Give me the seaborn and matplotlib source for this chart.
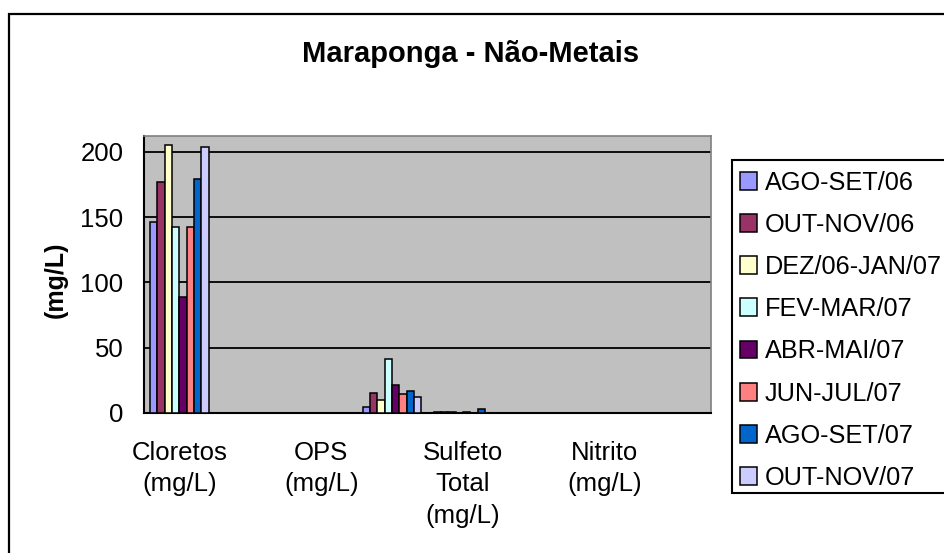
import numpy as np
import pandas as pd
import matplotlib
matplotlib.use("Agg")
import matplotlib.pyplot as plt
from matplotlib.patches import Rectangle
import seaborn as sns

# categories (only every other label is shown on the axis, as in the original)
cat_pos = [0, 1, 2, 3, 4, 5, 6, 7]
tick_labels = ["Cloretos\n(mg/L)", "", "OPS\n(mg/L)", "", "Sulfeto\nTotal\n(mg/L)", "", "Nitrito\n(mg/L)", ""]

periods = ["AGO-SET/06", "OUT-NOV/06", "DEZ/06-JAN/07", "FEV-MAR/07",
           "ABR-MAI/07", "JUN-JUL/07", "AGO-SET/07", "OUT-NOV/07"]
colors = ["#9999FF", "#993366", "#FFFFCC", "#CCFFFF",
          "#660066", "#FF8080", "#0066CC", "#CCCCFF"]

# values per period, one entry per category slot
ago_set_06 = [145.8, 0, 0, 4.6, 1.0, 0, 0, 0]
out_nov_06 = [176.5, 0, 0, 15.3, 1.0, 0, 0, 0]
dez_jan_07 = [205.4, 0, 0, 10.2, 1.0, 0, 0, 0]
fev_mar_07 = [142.3, 0, 0, 41.1, 0, 0, 0, 0]
abr_mai_07 = [89.1, 0, 0, 21.2, 1.0, 0, 0, 0]
jun_jul_07 = [142.3, 0, 0, 14.8, 0, 0, 0, 0]
ago_set_07 = [179.3, 0, 0, 16.9, 3.0, 0, 0, 0]
out_nov_07 = [203.6, 0, 0, 12.3, 0, 0, 0, 0]

series = [ago_set_06, out_nov_06, dez_jan_07, fev_mar_07,
          abr_mai_07, jun_jul_07, ago_set_07, out_nov_07]

rows = []
for p, vals in zip(periods, series):
    for c, v in zip(cat_pos, vals):
        rows.append({"cat": c, "periodo": p, "valor": v})
df = pd.DataFrame(rows)

sns.set_theme(style="white")
plt.rcParams['font.family'] = ['Liberation Sans', 'DejaVu Sans']
plt.rcParams['text.color'] = 'black'
plt.rcParams['xtick.color'] = 'black'
plt.rcParams['ytick.color'] = 'black'

fig = plt.figure(figsize=(9.44, 5.53), dpi=100)
ax = fig.add_axes([144/944, 1-413/553, 567/944, 277/553])
ax.set_facecolor("#C0C0C0")

sns.barplot(data=df, x="cat", y="valor", hue="periodo", order=cat_pos,
            hue_order=periods, palette=colors, width=0.83,
            edgecolor="black", linewidth=1.1, saturation=1, ax=ax, zorder=3)

ax.set_xlim(-0.5, 7.5)
ax.set_ylim(0, 212)
ax.set_yticks([0, 50, 100, 150, 200])
ax.yaxis.grid(True, color="black", linewidth=1.3, zorder=1)
ax.set_axisbelow(True)

ax.set_xticks(cat_pos)
ax.set_xticklabels(tick_labels, fontsize=18.5, linespacing=1.4, color="black")
ax.set_xticks(np.arange(-0.5, 8, 1), minor=True)
ax.tick_params(axis="x", which="major", length=0, pad=20)
ax.tick_params(axis="x", which="minor", length=6.5, width=1.3, direction="out", color="black")
ax.tick_params(axis="y", length=5.8, width=1.3, direction="out", color="black",
               labelsize=18.5, labelcolor="black", pad=9)
ax.set_xlabel("")
ax.set_ylabel("")

for s in ["left", "bottom"]:
    ax.spines[s].set_color("black")
    ax.spines[s].set_linewidth(1.5)
for s in ["top", "right"]:
    ax.spines[s].set_color("#808080")
    ax.spines[s].set_linewidth(1.2)

# legend box runs off the right edge in the original
fig.patches.append(Rectangle((732/944, 1-493/553), 0.3, 333/553, transform=fig.transFigure,
                             facecolor="white", edgecolor="black", linewidth=1.5, zorder=-1))

handles, labels = ax.get_legend_handles_labels()
leg = ax.legend(handles, labels, loc="upper left", bbox_to_anchor=(732/944, 1-163/553),
                bbox_transform=fig.transFigure, frameon=False,
                fontsize=18.2, handlelength=0.7, handleheight=0.7, handletextpad=0.3,
                labelspacing=0.72, borderpad=0.3, borderaxespad=0)
for t in leg.get_texts():
    t.set_color("black")

fig.text(471/944, 1-62/553, "Maraponga - Não-Metais", ha="center", va="baseline",
         fontsize=21, fontweight="bold", color="black")
fig.text(56/944, 1-280/553, "(mg/L)", ha="center", va="center", rotation=90,
         fontsize=18, fontweight="bold", color="black")

fig.patches.append(Rectangle((9/944, -0.1), 1.2, 1.1-14/553, transform=fig.transFigure,
                             fill=False, edgecolor="black", linewidth=1.6, zorder=-1))

fig.savefig("out.png", dpi=100)
